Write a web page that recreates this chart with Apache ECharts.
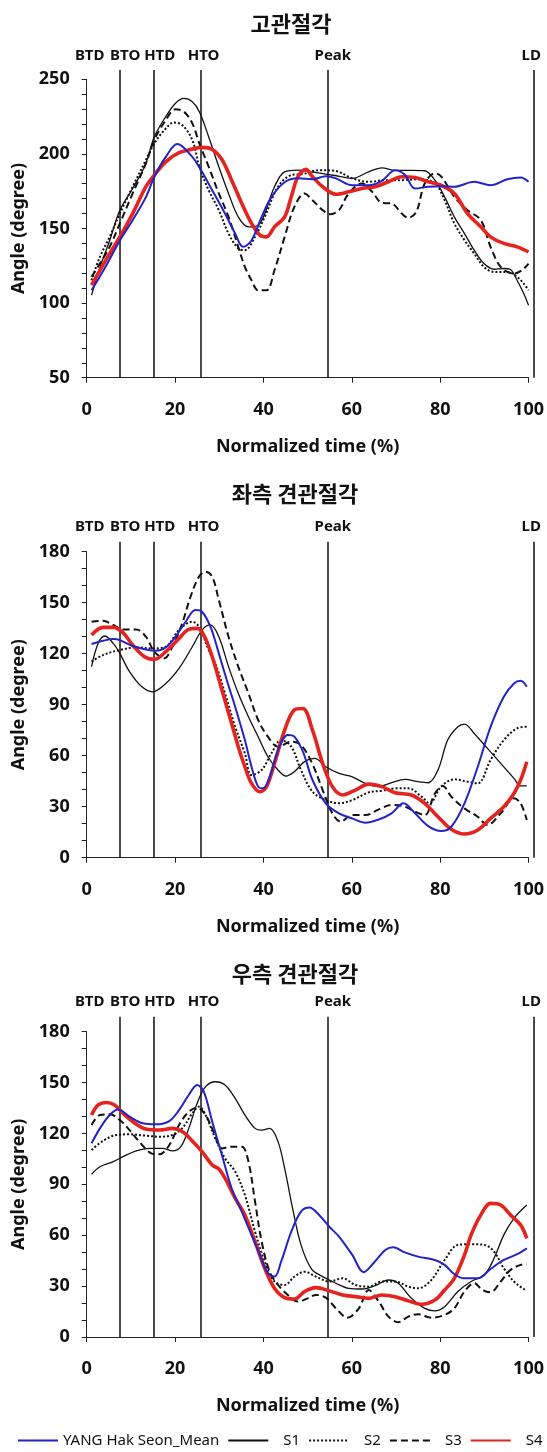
<!DOCTYPE html>
<html><head><meta charset="utf-8">
<script src="https://cdn.jsdelivr.net/npm/echarts@6/dist/echarts.min.js"></script>
<style>html,body{margin:0;padding:0;background:#fff}#c{width:547px;height:1452px}</style>
</head><body><div id="c"></div>
<script>
// ---------- data ----------
const chartTitles = ['고관절각', '좌측 견관절각', '우측 견관절각'];
const seriesNames = ['YANG Hak Seon_Mean', 'S1', 'S2', 'S3', 'S4'];
const eventNames = ['BTD', 'BTO', 'HTD', 'HTO', 'Peak', 'LD'];
const eventX = [0, 7.5, 15, 25.5, 54, 100];
const xTicks = [0, 20, 40, 60, 80, 100];
const hipTicks = [50, 100, 150, 200, 250];
const shoulderTicks = [0, 30, 60, 90, 120, 150, 180];

// 고관절각 (hip)
const hipMean = [[1.1,108.6],[4.2,124],[7.5,142],[10.4,155.6],[13.4,171],[15.3,184.7],[17.9,198],[20.5,206.6],[23.9,198],[25.5,191],[28.4,175.7],[31.3,160],[33.6,146.6],[35.4,137.7],[37.3,142],[39.6,157.8],[41.8,171],[44.8,181],[47.8,183.6],[51.1,183],[54.1,185],[56.4,183.6],[60.1,179],[63.8,179],[66.8,182],[69.8,189],[72,186],[74.3,176.8],[77.3,178],[80.2,178.4],[83.2,178],[87.7,181.3],[91.4,179],[95.2,183],[98.2,184.2],[100,181.3]];
const hipS1 = [[1.1,105.3],[3,124],[5.2,142],[7.5,162.3],[10.4,176.8],[13.4,193.6],[15.3,211.5],[17.9,225],[20.1,234],[22,237.2],[23.9,235],[25.5,228.3],[27.6,211.5],[29.9,191.4],[32.1,173.5],[34.3,157.8],[36.6,151.1],[38.8,152.2],[40.3,160],[42.5,178],[44.8,188],[47.8,189.1],[50.7,188],[54.1,186.5],[57.1,185],[60.1,183.6],[63.8,188],[66.8,190.7],[69.8,189],[73.5,189],[76.5,188.7],[78.8,182.4],[81,171.3],[83.2,157.8],[85.5,146.6],[87.7,135.5],[89.9,126.5],[92.2,122.7],[94.4,123.2],[95.9,122.5],[97.4,115.3],[98.9,106.4],[100,98.5]];
const hipS2 = [[1.1,115.3],[3,131],[5.2,144.4],[7.5,160],[10.4,178],[13.4,195.9],[15.3,207],[17.9,217],[19.7,221],[21.6,219.4],[23.9,209.3],[25.5,191.4],[27.6,175.7],[29.9,162.3],[32.1,146.6],[34.3,136.6],[35.8,135.5],[38.1,144.4],[40.3,157.8],[43.3,178],[46.3,185.8],[48.9,186.5],[52.6,189.1],[56.4,188.5],[60.1,183.6],[63.8,181.3],[67.6,182.4],[71.3,182.4],[75,183],[78.8,180.2],[81,169],[83.2,153.4],[85.5,142.2],[87.7,133.2],[89.9,124.3],[92.2,120.9],[95.2,120.9],[97.4,117.6],[98.9,113.1],[100,108.6]];
const hipS3 = [[1.1,117.6],[3,126.5],[5.2,137.7],[7.5,153.4],[10.4,173.5],[13.4,193.6],[15.3,209.3],[17.9,222.7],[20.1,229.9],[22,228.3],[23.9,220.5],[25.5,207],[27.6,191.4],[29.9,173.5],[32.1,157.8],[34.3,137.7],[35.8,124.3],[37.3,115.3],[38.8,108.6],[40.7,108.6],[42.5,122],[44.8,144.4],[47,164.5],[49.3,173.5],[51.1,169],[53.4,162.3],[55.2,159.6],[57.1,162.3],[59.3,173.5],[62.3,180.2],[64.6,174.6],[66.8,167.2],[69,166.8],[71.3,160],[72.8,157.2],[74.6,161.2],[76.5,180.2],[78.8,187],[80.2,185],[83.2,171.3],[86.2,162.3],[89.2,155.6],[91.4,137.7],[93.7,124.3],[96.7,119.8],[98.5,122],[100,126.5]];
const hipS4 = [[1.1,112],[3,122],[5.2,133.2],[7.5,144.4],[10.4,160],[13.4,178],[15.3,185.8],[17.9,194.7],[20.9,200.8],[23.9,203.2],[26.1,204.4],[28.4,203],[30.6,196.3],[32.8,182.4],[35.1,166.8],[37.3,153.4],[39.2,145.5],[40.7,144.4],[42.5,151.1],[44.8,157.8],[46.3,171.3],[47.8,184.7],[49.6,189.6],[51.1,184.7],[53.4,178],[56.4,173],[59.3,174.6],[62.3,176.8],[65.3,178],[68.3,181.3],[71.3,184.7],[74.3,184.2],[77.3,181.3],[80.2,179],[83.2,173.5],[86.2,160],[89.2,151.1],[91.4,144.4],[94.4,140],[97.4,137.7],[100,134.3]];

// 좌측 견관절각 (left shoulder)
const lsMean = [[1.1,125.7],[3.7,127.6],[6,128.6],[7.5,128],[10.4,124.5],[13.4,122.5],[15.7,121.8],[17.9,123.7],[20.1,130],[22.4,138.8],[24.6,145.7],[26.1,144.7],[28,135.9],[29.9,120.2],[31.7,104.5],[33.6,88.8],[35.8,69.2],[37.3,53.5],[38.8,41.8],[39.9,40.8],[41.4,47.6],[43.3,63.3],[45.5,72.2],[47,71.2],[49,62],[51.1,45.7],[54.1,32],[57.1,26.1],[60.1,23.1],[63.1,20.6],[66.1,22.5],[69,26.1],[71.7,32],[74.3,26.1],[77.3,18.6],[80.2,15.7],[82.5,18.2],[85.5,32],[88.5,53.5],[91.4,77],[94.4,94.7],[96.7,102.5],[98.2,104.1],[99.6,100.6]];
const lsS1 = [[1.1,112.4],[2.6,126.1],[4.1,130.4],[6,126.1],[7.5,120.2],[9.7,109.4],[12.3,101],[14.9,97.6],[17.9,102.5],[20.9,111.4],[23.9,124.1],[26.1,133.9],[28,136.9],[29.9,130],[32.1,112.4],[34.3,96.7],[36.6,82.9],[38.8,71.2],[41,59.4],[43.3,51.6],[45.1,48],[47,50.6],[49.3,56.5],[51.6,58.4],[54.1,53.5],[57.1,49.6],[60.1,47.6],[63.1,43.7],[66.1,41.8],[69,44.1],[72,46.1],[75,44.7],[77.3,44.1],[79.5,51.6],[81.7,69.2],[84,77],[85.5,78.6],[87.7,73.1],[90.7,64.3],[93.7,55.5],[96.7,46.7],[98.2,42.2],[99.6,42.2]];
const lsS2 = [[1.1,115.3],[3.7,119.2],[7.5,122.2],[11.2,123.7],[14.9,123.1],[17.9,124.1],[20.9,133.9],[23.9,138.8],[25.5,135.5],[27.6,122.2],[29.1,114.3],[31.3,96.7],[33.6,77],[35.8,61.4],[37.3,48.6],[39.6,51.6],[41.8,61.4],[44,69.2],[46.3,65.3],[48.5,51.6],[51.1,38.8],[54.1,33.9],[57.1,32],[60.1,33.9],[63.8,38.4],[66.8,39.4],[69.8,40.8],[72.8,40.8],[75.8,35.9],[77.6,32],[80.2,41.8],[83.2,46.1],[86.2,44.7],[88.5,43.7],[91.4,57.5],[94.4,69.2],[97.4,76.1],[99.6,77]];
const lsS3 = [[1.1,138.8],[3.7,139.4],[6,136.9],[8.2,134.3],[11.2,134.3],[13.4,130],[15.3,121.2],[17.5,117.3],[19.4,124.1],[21.6,137.8],[23.5,153.5],[25.4,165.3],[26.9,168.2],[28.4,165.3],[29.9,151.6],[32.1,130],[34.3,112.4],[36.6,96.7],[38.8,81],[41,71.2],[43.3,65.3],[46.3,68.2],[48.5,66.3],[51.1,55],[53.4,39.8],[55.6,26.1],[57.5,21.2],[60.1,25.1],[63.1,25.1],[66.1,28.4],[69,31],[72,30],[74.3,27.1],[76.5,25.1],[78.8,37.8],[80.6,42.2],[82.5,35.9],[85.5,29],[88.5,24.1],[90.7,19.2],[93.7,26.1],[96.7,34.9],[98.2,32],[99.6,22.2]];
const lsS4 = [[1.1,131],[3.7,135.5],[6,135.5],[8.2,132.4],[10.4,125.1],[13.1,118.2],[15.3,116.7],[17.9,121.2],[20.9,129],[23.1,134.3],[25,134.9],[26.5,131],[28.4,118.2],[30.6,98.6],[32.8,79],[34.3,65.3],[35.8,53.5],[37.3,43.7],[39.2,38.8],[40.7,41.8],[42.5,55.5],[44.8,75.1],[47,86.9],[48.9,87.8],[51.1,75],[53.4,55.5],[55.6,41.8],[57.9,36.9],[60.8,39.8],[63.8,43.3],[66.8,41.8],[69.8,38.2],[73.5,36.9],[76.5,32],[79.5,24.1],[82.5,16.7],[85.5,13.9],[88.5,16.3],[91.4,23.1],[94.4,30],[96.7,37.8],[98.2,45.7],[99.6,56.5]];

// 우측 견관절각 (right shoulder)
const rsMean = [[1.1,114.2],[3,123],[5.2,130.9],[7.1,134.2],[9.7,129.9],[12.7,126],[15.7,125.4],[18.7,127.3],[20.9,133.8],[23.1,142.7],[25,148.6],[26.5,144.6],[28.4,127],[30.6,107.3],[32.8,87.7],[35.1,73.9],[37.3,60.2],[39.2,48.4],[41,37.6],[42.5,35.6],[44,44.4],[46.3,62.1],[48.5,73.9],[50.4,76.3],[52.6,71.9],[54.9,65],[57.1,59.2],[60.1,48.4],[62.7,38.2],[64.9,43.5],[67.6,51.3],[69.4,52.9],[72,49.9],[75,47.4],[78.8,45.4],[81,42.5],[83.2,37],[85.5,34.6],[88.5,34.6],[91.4,40.1],[94.4,45.4],[97.4,48.8],[99.6,52.3]];
const rsS1 = [[1.1,95.9],[3,100.4],[6,103.4],[8.2,106.3],[11.2,109.7],[14.2,111.2],[17.2,111.2],[19.4,109.7],[21.3,112.2],[23.1,123],[25,137.8],[26.9,147.6],[29.1,150.5],[31.3,148.6],[33.6,140.7],[35.8,130.9],[38.1,123],[39.6,122],[41.4,123],[43.3,115.2],[44.8,99.4],[46.6,75.9],[48.5,54.3],[50.9,40],[53.4,35.6],[56.4,31.7],[59.3,28.7],[62.3,28.3],[65.3,30.3],[68.3,33.6],[70.5,31.7],[73.5,22.8],[76.5,16.9],[78.8,15.4],[81,17.9],[84,26.8],[87,32.7],[90,36.6],[92.2,46.4],[94.4,60.2],[96.7,70],[99.6,77.8]];
const rsS2 = [[1.1,110.3],[3.7,115.6],[6.7,119.1],[9.7,119.5],[13.4,118.7],[16.4,118.1],[19.4,119.1],[21.6,123],[23.9,131.9],[25.4,135.8],[26.9,130.9],[29.1,117.1],[31.3,105.3],[33.6,97.5],[35.8,83.7],[38.1,62.1],[40.3,44.4],[42.5,32.7],[44.8,30.7],[47,35.6],[49.3,38.5],[51.9,35.6],[54.9,32.7],[57.9,34.6],[60.8,30.7],[63.8,29.7],[66.8,32.7],[69.8,32.7],[72.8,29.7],[75,28.7],[78,33.6],[81,45.4],[84,54.3],[87,54.7],[90,54.3],[92.2,50.3],[94.4,40.5],[96.7,32.7],[98.9,28.3],[99.6,27.7]];
const rsS3 = [[1.1,125],[3,130.9],[5.2,131.3],[7.5,127.9],[9.7,122],[11.9,115.2],[14.6,108.3],[16.4,107.7],[18.7,113.2],[20.9,125],[23.1,132.8],[25,135.2],[26.9,130.9],[28.7,121.1],[30.6,111.2],[32.8,112.2],[35.1,112.2],[36.6,103.4],[38.1,79.8],[39.6,56.2],[41.4,38.5],[43.3,30.7],[45.5,24.8],[47.8,20.9],[50,22.8],[51.9,24.8],[54.1,23.2],[56.4,16.9],[59,11.4],[61.6,16.9],[63.8,27.7],[66.1,20.9],[68.3,12],[70.5,8.7],[72.8,12],[75,13.4],[78,11.4],[81,13],[83.2,16.9],[85.5,26.8],[87.7,31.7],[89.6,27.7],[91.4,26.4],[93.7,32.7],[95.9,39.5],[98.2,42.5],[99.6,42.9]];
const rsS4 = [[1.1,130.9],[2.6,136.8],[4.5,138.3],[6.3,136.8],[8.2,131.9],[10.4,127],[13.4,122.6],[16.4,122],[19.4,123],[21.6,121.1],[23.9,115.6],[26.1,109.3],[28.4,101.4],[29.9,99.1],[31.3,93.6],[33.6,81.8],[35.8,72],[38.1,56.2],[40.3,40.5],[42.5,28.7],[44.8,23.2],[47,22.4],[49.3,26.8],[51.9,29.1],[54.9,27.2],[57.9,24.8],[60.8,23.8],[63.8,22.8],[66.8,24.8],[69.8,23.8],[72.8,21.3],[75.8,19.3],[78.8,21.8],[81,27.7],[83.2,34.6],[85.5,48.4],[87,60.2],[89.2,72],[91.4,78.8],[93.7,77.8],[95.9,72],[98.2,66.1],[99.6,58.2]];

// ---------- layout / style ----------
const panelData = [
  [hipMean, hipS1, hipS2, hipS3, hipS4],
  [lsMean, lsS1, lsS2, lsS3, lsS4],
  [rsMean, rsS1, rsS2, rsS3, rsS4]
];
const panelTicks = [hipTicks, shoulderTicks, shoulderTicks];
const gridTop = [79.3, 551.7, 1031.7];
const gridBottomY = [377.7, 857.7, 1337];
const lineTop = [70, 541.7, 1016.7];
const titleY = [8, 478, 958];
const titleX = [286, 290, 290];
const LEFT = 86.7, RIGHT = 13.7;
const eventDx = [3, 5, 6, 3, 5, -2];

const FONT = "'Noto Sans', 'Noto Sans CJK KR', sans-serif";
const styles = [
  { color: '#2323c8', width: 2, type: 'solid' },
  { color: '#111', width: 1.3, type: 'solid' },
  { color: '#111', width: 2, type: 'dotted' },
  { color: '#111', width: 2, type: [7, 4] },
  { color: '#e5231f', width: 3.6, type: 'solid' }
];

const grid = [], xAxis = [], yAxis = [], series = [], title = [];
for (let p = 0; p < 3; p++) {
  grid.push({ left: LEFT, right: RIGHT, top: gridTop[p], height: gridBottomY[p] - gridTop[p] });
  title.push({
    text: chartTitles[p], left: titleX[p], top: titleY[p], textAlign: 'center',
    textStyle: { fontFamily: "'Noto Sans CJK KR', sans-serif", fontSize: 22, fontWeight: 'bold', color: '#111' }
  });
  const t = panelTicks[p];
  xAxis.push({
    type: 'value', gridIndex: p, min: xTicks[0], max: xTicks[xTicks.length - 1], interval: xTicks[1] - xTicks[0],
    axisLine: { show: true, lineStyle: { color: '#222', width: 1 } },
    axisTick: { show: true, length: 5, lineStyle: { color: '#222' } },
    splitLine: { show: false },
    axisLabel: { fontFamily: FONT, fontSize: 18, fontWeight: 'bold', color: '#111', margin: 23 },
    name: 'Normalized time (%)', nameLocation: 'middle', nameGap: 60,
    nameTextStyle: { fontFamily: FONT, fontSize: 18, fontWeight: 'bold', color: '#111' }
  });
  yAxis.push({
    type: 'value', gridIndex: p, min: t[0], max: t[t.length - 1], interval: t[1] - t[0],
    axisLine: { show: true, lineStyle: { color: '#222', width: 1 } },
    axisTick: { show: true, length: 5, lineStyle: { color: '#222' } },
    minorTick: { show: true, splitNumber: (t[1] - t[0]) / 10, length: 5, lineStyle: { color: '#222' } },
    splitLine: { show: false },
    axisLabel: { fontFamily: FONT, fontSize: 18, fontWeight: 'bold', color: '#111', margin: 17 },
    name: 'Angle (degree)', nameLocation: 'middle', nameRotate: 90, nameGap: 55,
    nameTextStyle: { fontFamily: FONT, fontSize: 18, fontWeight: 'bold', color: '#111' }
  });
  panelData[p].forEach((d, j) => {
    series.push({
      name: seriesNames[j], type: 'line', xAxisIndex: p, yAxisIndex: p,
      data: d, smooth: 0.35, showSymbol: false, symbol: 'none', silent: true,
      lineStyle: { color: styles[j].color, width: styles[j].width, type: styles[j].type },
      itemStyle: { color: styles[j].color },
      z: j === 0 ? 6 : (j === 4 ? 5 : 3)
    });
  });
}
// overlay grids for event lines (they rise above the plotting area)
for (let p = 0; p < 3; p++) {
  grid.push({ left: LEFT, right: RIGHT, top: lineTop[p], height: gridBottomY[p] - lineTop[p] });
  xAxis.push({ type: 'value', gridIndex: 3 + p, min: 0, max: 100, show: false });
  yAxis.push({ type: 'value', gridIndex: 3 + p, min: 0, max: 1, show: false });
  series.push({
    type: 'line', name: 'events' + p, xAxisIndex: 3 + p, yAxisIndex: 3 + p, data: [], silent: true,
    markLine: {
      silent: true, symbol: ['none', 'none'], animation: false,
      lineStyle: { color: '#111', width: 1.5, type: 'solid' },
      label: { show: true, position: 'end', formatter: '{b}', distance: 7,
        fontFamily: FONT, fontSize: 15, fontWeight: 'bold', color: '#111' },
      data: eventNames.map((n, k) => ({
        name: n, xAxis: eventX[k],
        lineStyle: k === 0 ? { color: 'rgba(0,0,0,0)', width: 1 } : { color: '#111', width: 1.5 },
        label: { offset: [eventDx[k], 0], color: '#111' }
      }))
    }
  });
}

const legendPad = [0, 10, 10, 10, 10];
const option = {
  animation: false,
  backgroundColor: '#fff',
  title: title,
  grid: grid, xAxis: xAxis, yAxis: yAxis, series: series,
  legend: {
    left: 17, top: 1433, width: 530, padding: 0, itemWidth: 40, itemHeight: 14, itemGap: 8,
    itemStyle: { opacity: 0 },
    textStyle: { fontFamily: FONT, fontSize: 15, color: '#111' },
    data: seriesNames.map((n, j) => ({ name: n, textStyle: { padding: [0, 0, 0, legendPad[j]] } }))
  }
};
const chart = echarts.init(document.getElementById('c'), null, { renderer: 'canvas' });
chart.setOption(option);
</script>
</body></html>
